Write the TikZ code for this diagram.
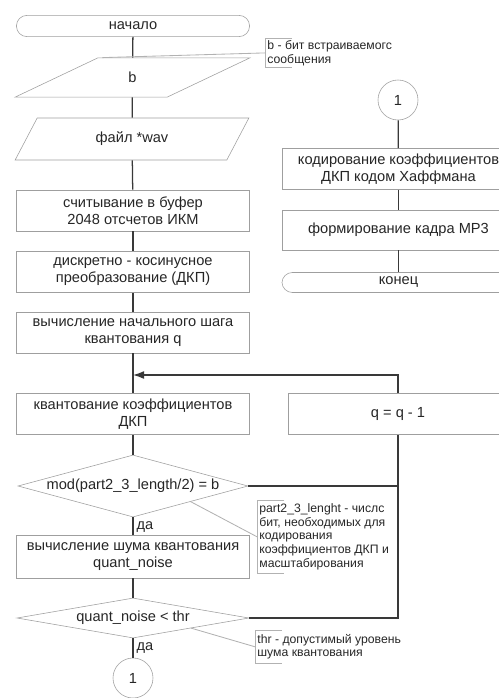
\documentclass[tikz,border=0pt]{standalone}
\usepackage{fontspec}
\setmainfont{Liberation Sans}
\usetikzlibrary{arrows.meta, shapes.geometric}
\newcommand{\blockfont}{\fontsize{10.4}{12}\selectfont}
\newcommand{\notefont}{\fontsize{8.7}{9.7}\selectfont}
\tikzset{
  box/.style={draw=gray!75, fill=white, text=black!85, align=center, font=\blockfont, minimum width=5.825cm, minimum height=1.03cm, inner sep=2pt},
  term/.style={box, rounded corners=0.26cm, minimum height=0.53cm},
  io/.style={box, trapezium, trapezium stretches, minimum width=5.875cm, minimum height=0.98cm},
  dec/.style={draw=gray!75, fill=white, text=black!85, diamond, font=\blockfont, inner sep=0pt},
  conn/.style={draw=gray!75, fill=white, text=black!85, circle, minimum size=1cm, inner sep=0pt, font=\blockfont},
  line/.style={draw=gray!45!black, line width=0.9pt},
  arr/.style={line, -{Latex[length=2.8mm, width=2mm]}},
  note/.style={font=\notefont, text=black!85, align=left, inner sep=1.5pt, anchor=north west},
  brk/.style={draw=gray!60, line width=0.6pt},
  lbl/.style={font=\blockfont, text=black!85, anchor=west, inner sep=1pt}
}

\begin{document}
\begin{tikzpicture}[x=0.025cm, y=-0.025cm]
    \useasboundingbox (0,0) rectangle (499,698);
    \clip (0,0) rectangle (499,698);

    % left column
    \node[term] (start) at (133,26) {начало};
    \node[io, trapezium left angle=45, trapezium right angle=135] (b) at (132.5,77.5) {b};
    \node[io, trapezium left angle=65, trapezium right angle=115, minimum height=1.05cm] (wav) at (132,139) {файл *wav};
    \node[box] (read) at (133,210.5) {считывание в буфер\\2048 отсчетов ИКМ};
    \node[box] (dct) at (133,272) {дискретно - косинусное\\преобразование (ДКП)};
    \node[box] (qstep) at (133,332.5) {вычисление начального шага\\квантования q};
    \node[box] (quant) at (133,414) {квантование коэффициентов\\ДКП};
    \node[dec, minimum width=5.75cm, minimum height=1.55cm, aspect=3.7] (mod) at (133,486) {mod(part2\_3\_length/2) = b};
    \node[box, minimum height=1.07cm] (noise) at (133,556.5) {вычисление шума квантования\\quant\_noise};
    \node[dec, minimum width=5.8cm, minimum height=1cm, aspect=5.8] (qn) at (133,618) {quant\_noise < thr};
    \node[conn] (c1) at (133,678) {1};
    \node[lbl] (yes1) at (135,527) {да};
    \node[lbl] (yes2) at (135,648) {да};

    % right column
    \node[conn] (c2) at (398,100) {1};
    \node[box] (huff) at (398.5,169) {кодирование коэффициентов\\ДКП кодом Хаффмана};
    \node[box, minimum height=1cm] (frame) at (398.5,230) {формирование кадра МР3};
    \node[term, minimum height=0.5cm] (end) at (398.5,282.5) {конец};
    \node[box, minimum width=5.5cm] (dec1) at (398,414) {q = q - 1};
    \coordinate (jn) at (133,375);

    % comments
    \node[note, minimum height=0.725cm] (nb) at (265,38) {b - бит встраиваемогс\\сообщения};
    \node[note, minimum height=1.825cm] (np) at (257,500) {part2\_3\_lenght - числс\\бит, необходимых для\\кодирования\\коэффициентов ДКП и\\масштабирования};
    \node[note, minimum height=0.825cm] (nt) at (255,630) {thr - допустимый уровень\\шума квантования};

    \draw[line] (start) -- (b);
    \draw[line] (b) -- (wav);
    \draw[line] (wav) -- (read);
    \draw[line] (read) -- (dct);
    \draw[line] (dct) -- (qstep);
    \draw[line] (qstep) -- (quant);
    \draw[line] (quant) -- (mod);
    \draw[line] (mod) -- (noise);
    \draw[line] (noise) -- (qn);
    \draw[line] (qn) -- (c1);
    \draw[line] (mod.east) -- (mod.east -| dec1.south);
    \draw[line] (qn.east) -| (dec1.south);
    \draw[arr] (dec1.north) |- (jn);
    \draw[line] (c2) -- (huff);
    \draw[line] (huff) -- (frame);
    \draw[line] (frame) -- (end);

    \draw[brk] ([xshift=0.68cm]nb.north west) -- (nb.north west) -- (nb.south west) -- ([xshift=0.68cm]nb.south west);
    \draw[brk] ([xshift=0.68cm]np.north west) -- (np.north west) -- (np.south west) -- ([xshift=0.68cm]np.south west);
    \draw[brk] ([xshift=0.68cm]nt.north west) -- (nt.north west) -- (nt.south west) -- ([xshift=0.68cm]nt.south west);
    \draw[brk] ([xshift=-1.25cm]b.north east) -- (nb.west);
    \draw[brk] (mod.south east) -- (np.west);
    \draw[brk] (qn.south east) -- (nt.west);
  \end{tikzpicture}
\end{document}
